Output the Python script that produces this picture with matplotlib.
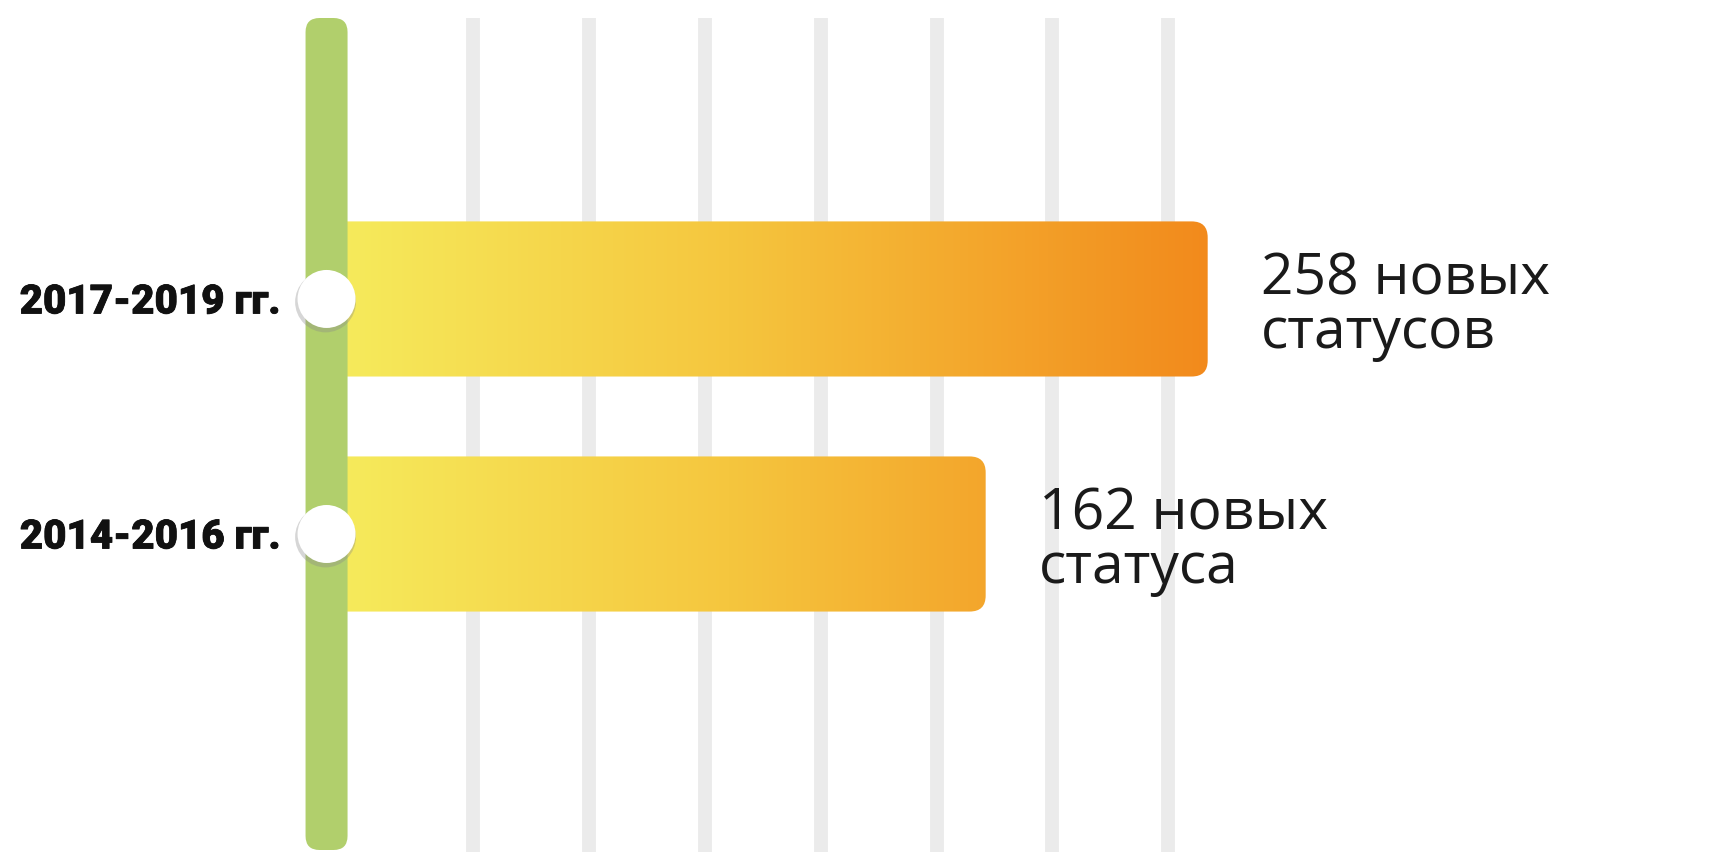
import numpy as np
import matplotlib
matplotlib.use("Agg")
import matplotlib.pyplot as plt
import matplotlib.patheffects as pe
from matplotlib.patches import FancyBboxPatch
from matplotlib.colors import LinearSegmentedColormap

# ---- data ----
periods = ["2014-2016 гг.", "2017-2019 гг."]
values = [162, 258]
value_labels = ["162 новых\nстатуса", "258 новых\nстатусов"]

# ---- layout / style ----
W, H, DPI = 17.10, 8.52, 100
AX_START = -123          # where bars visually begin (under green rail)
XLIM = (-264.2, 475.2)
YLIM = (-1.353, 2.272)
BAR_H = 0.66
GREEN = "#B1CF6C"
GRID = "#EBEBEB"
grad_cmap = LinearSegmentedColormap.from_list(
    "g", [(0.0, "#F6EB5C"), (0.45, "#F5C63E"), (1.0, "#F28A1C")])

fig = plt.figure(figsize=(W, H), dpi=DPI)
ax = fig.add_axes([0, 0, 1, 1])
ax.set_xlim(*XLIM)
ax.set_ylim(*YLIM)
ax.axis("off")

# pixel helpers (for sizes only)
px_x = (XLIM[1] - XLIM[0]) / (W * DPI)
px_y = (YLIM[1] - YLIM[0]) / (H * DPI)

# grid rails
grid_pos = np.linspace(-59.7, 241.0, 7)
y_top = YLIM[1] - 18 * px_y
for gx in grid_pos:
    ax.plot([gx, gx], [YLIM[0] - 1, y_top], color=GRID, lw=10, solid_capstyle="butt", zorder=1)

# bars
ypos = np.arange(len(values))
bars = ax.barh(ypos, [v - AX_START for v in values], left=AX_START, height=BAR_H,
               color="none", edgecolor="none", zorder=2)
grad = np.linspace(0, 1, 512).reshape(1, -1)
x_grad0 = AX_START + 10 * px_x
x_grad1 = 258
r_px = 16
for b in bars:
    x0, y0 = b.get_x(), b.get_y()
    w, h = b.get_width(), b.get_height()
    patch = FancyBboxPatch((x0, y0), w, h,
                           boxstyle=f"round,pad=0,rounding_size={r_px * px_x}",
                           mutation_aspect=px_y / px_x,
                           facecolor="none", edgecolor="none", transform=ax.transData)
    ax.add_patch(patch)
    im = ax.imshow(grad, cmap=grad_cmap, aspect="auto",
                   extent=[x_grad0, x_grad1, y0, y0 + h], zorder=2, interpolation="bilinear")
    im.set_clip_path(patch)

# green rail
rail_x = AX_START
rail_w = 42 * px_x
rail = FancyBboxPatch((rail_x - rail_w / 2, YLIM[0] + 2 * px_y), rail_w,
                      (y_top - YLIM[0] - 2 * px_y),
                      boxstyle=f"round,pad=0,rounding_size={14 * px_x}",
                      mutation_aspect=px_y / px_x,
                      facecolor=GREEN, edgecolor="none", zorder=3)
ax.add_patch(rail)

# circles
circ_s = (58 * 72 / DPI) ** 2
ax.scatter([AX_START - 1 * px_x] * len(ypos), ypos - 3 * px_y, s=circ_s * 1.1,
           color="#8a8a8a", alpha=0.35, edgecolors="none", zorder=4)
ax.scatter([AX_START] * len(ypos), ypos, s=circ_s, color="white",
           edgecolors="none", zorder=5)

# period labels
for y, lab in zip(ypos, periods):
    ax.text(AX_START - 46 * px_x, y - 3 * px_y, lab, ha="right", va="center",
            fontsize=29, fontweight="black", family=["Roboto", "DejaVu Sans"],
            color="#111111", zorder=6,
            path_effects=[pe.withStroke(linewidth=0.6, foreground="#111111")])

# value labels
for b, lab in zip(bars, value_labels):
    xe = b.get_x() + b.get_width()
    yc = b.get_y() + b.get_height() / 2
    ax.text(xe + 53 * px_x, yc - 8 * px_y, lab, ha="left", va="center",
            fontsize=41, family=["Open Sans", "DejaVu Sans"], color="#1a1a1a",
            linespacing=0.93, zorder=6)

fig.savefig("out.png", dpi=DPI, facecolor="white")
